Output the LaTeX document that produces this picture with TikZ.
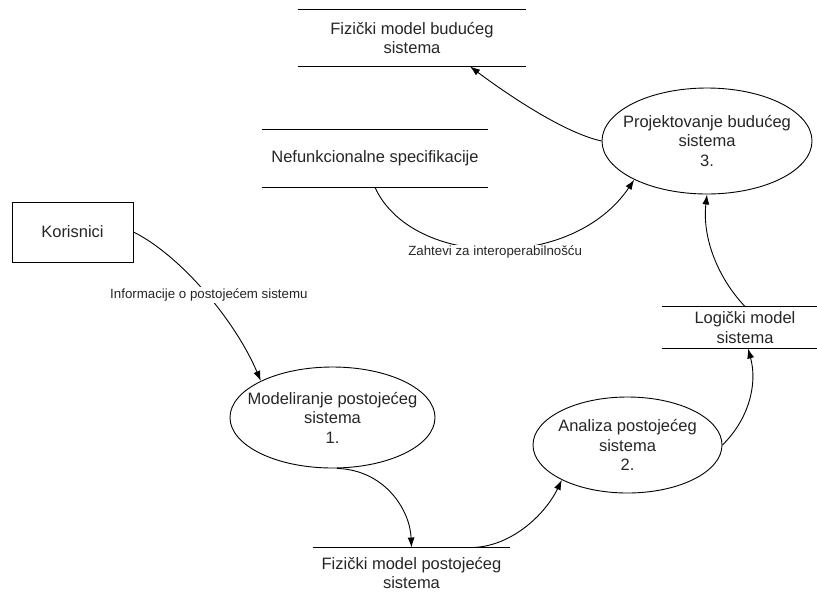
\documentclass[tikz,border=0pt]{standalone}
\usepackage{fontspec}
\setmainfont{Liberation Sans}
\usetikzlibrary{shapes.geometric,arrows.meta}
\begin{document}
\begin{tikzpicture}[x=1pt,y=-1pt,
  every node/.style={text=black!85, font=\fontsize{16.5}{19.5}\selectfont, align=center},
  proc/.style={draw, ellipse, inner sep=0pt},
  store/.style={inner sep=0pt},
  entity/.style={draw, rectangle, minimum width=121pt, minimum height=60pt},
  flow/.style={-{Latex[length=10pt,width=7pt]}},
  lbl/.style={fill=white, inner sep=1.5pt, font=\fontsize{13.3}{16}\selectfont},
  line width=0.9pt]

\clip (0,0) rectangle (817,595);
\fill[white] (0,0) rectangle (817,595);

% data stores
\node[store, minimum width=228pt, minimum height=56pt] (fb) at (412,38) {Fizički model budućeg\\sistema};
\node[store, minimum width=226pt, minimum height=57pt] (nf) at (375,158.5) {Nefunkcionalne specifikacije};
\node[store, minimum width=166pt, minimum height=41pt] (lm) at (745,327.5) {Logički model\\sistema};
\node[store, minimum width=197pt, minimum height=50pt] (fp) at (411.5,573) {Fizički model postojećeg\\sistema};
\foreach \s in {fb,nf,lm,fp}
  \draw (\s.north west) -- (\s.north east) (\s.south west) -- (\s.south east);

% processes
\node[proc, minimum width=210pt, minimum height=106pt,
  label={center:{Projektovanje budućeg\\sistema\\3.}}] (p3) at (707,141) {};
\node[proc, minimum width=205pt, minimum height=101pt,
  label={center:{Modeliranje postojećeg\\sistema\\1.}}] (p1) at (332.5,417.5) {};
\node[proc, minimum width=189pt, minimum height=96pt,
  label={center:{Analiza postojećeg\\sistema\\2.}}] (p2) at (627.5,445) {};

% external entity
\node[entity] (k) at (72.5,232) {Korisnici};

% data flows
\draw[flow] (k.east) .. controls (180,255) and (235,320) .. (p1.153)
  node[lbl, pos=0.5, xshift=4pt, yshift=-3pt] {Informacije o postojećem sistemu};
\draw[flow] (p1.-85) .. controls (385,470) and (410,510) .. (fp.north);
\draw[flow] ([xshift=58pt]fp.north) .. controls (510,548) and (545,515) .. (p2.208);
\draw[flow] (p2.east) .. controls (748,420) and (758,385) .. ([xshift=3pt]lm.south);
\draw[flow] (lm.north) .. controls (718,278) and (702,238) .. (p3.south);
\draw[flow] (nf.south) .. controls (412,268) and (572,272) .. (p3.208)
  node[lbl, pos=0.5, yshift=-4pt] {Zahtevi za interoperabilnošću};
\draw[flow] (p3.west) .. controls (560,132) and (496,86) .. ([xshift=58pt]fb.south);
\end{tikzpicture}
\end{document}
